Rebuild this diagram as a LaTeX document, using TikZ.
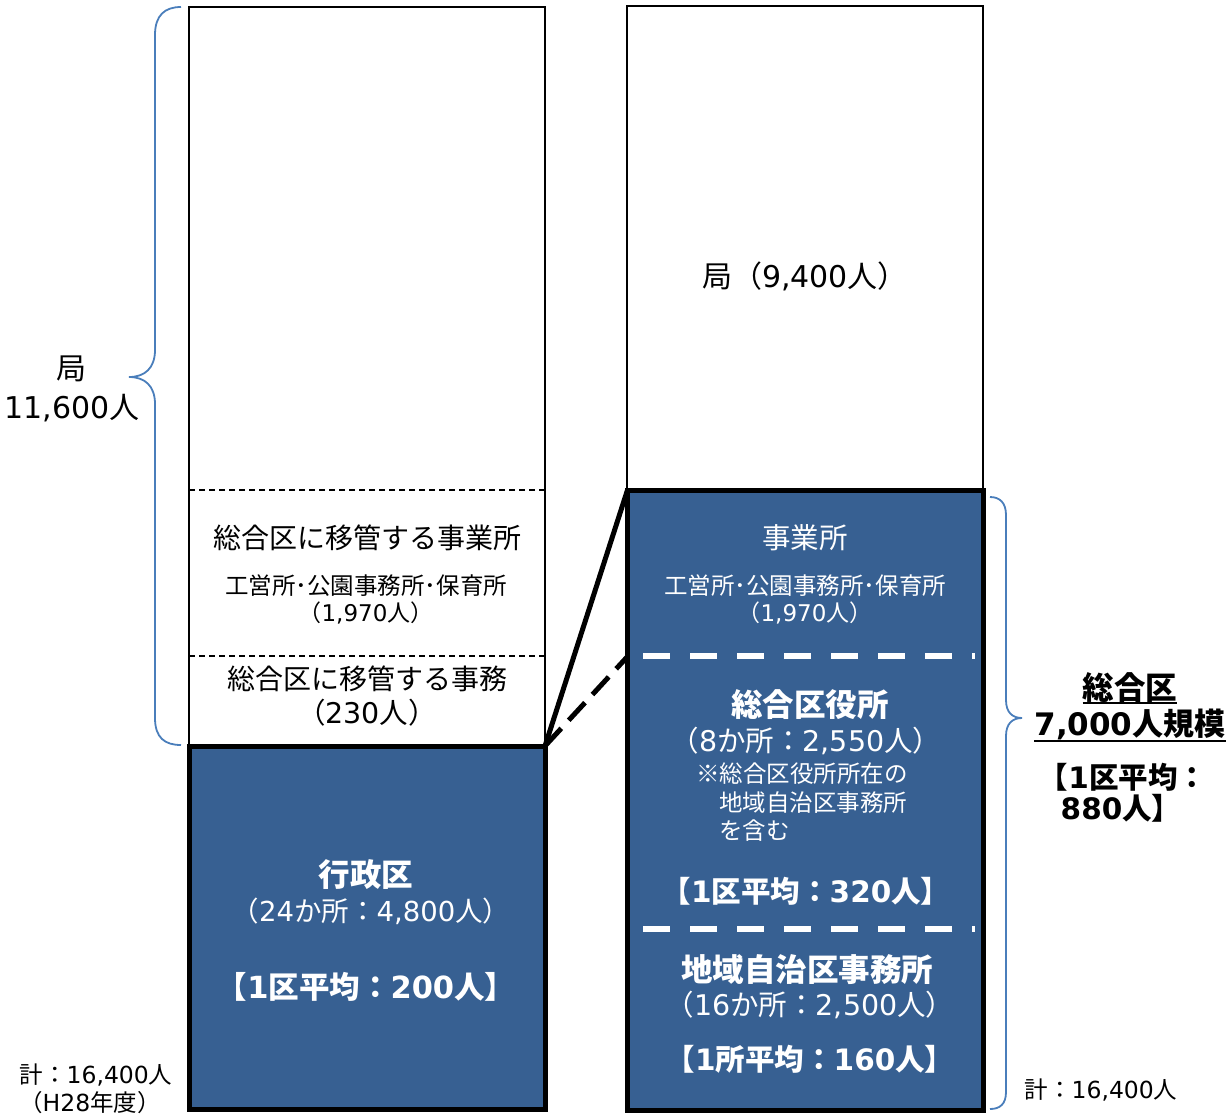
\documentclass[tikz,border=0pt]{standalone}
\usepackage{fontspec}
\setmainfont{Noto Sans CJK JP}
\newfontfamily\latfont{DejaVu Sans}
\newcommand\lt[1]{{\latfont #1}}
\newcommand\fsz[1]{\fontsize{#1}{#1}\selectfont}
\usetikzlibrary{calc}
\definecolor{boxblue}{HTML}{376092}
\definecolor{bracecol}{HTML}{4A7EBB}
\begin{document}
\begin{tikzpicture}[x=1pt,y=-1pt,
  thinbox/.style={draw=black,line width=1.5,minimum width=356,minimum height=#1,inner sep=0,outer sep=0},
  bluebox/.style={draw=black,fill=boxblue,line width=5,minimum width=356,minimum height=#1,inner sep=0,outer sep=0},
  lb/.style={inner sep=0,anchor=base,font=\fsz{#1}},
  lbw/.style={inner sep=0,anchor=base west,font=\fsz{#1}},
  wt/.style={text=white},
  thindash/.style={draw=black,line width=1.3,dash pattern=on 6 off 4},
  whitedash/.style={draw=white,line width=6,dash pattern=on 27 off 20},
  blackdash/.style={draw=black,line width=5,dash pattern=on 24 off 11},
  solidlink/.style={draw=black,line width=5},
  brace/.style={draw=bracecol,line width=1.8}]
\useasboundingbox (0,0) rectangle (1229,1117);

% columns
\node[thinbox=739] (ltall) at (367,376.5) {};
\node[thinbox=484] (rtop) at (805,248) {};
\draw[thindash] (189,490) -- (545,490);
\draw[thindash] (189,656) -- (545,656);
\node[bluebox=363] (gyosei) at (367,927.5) {};
\node[bluebox=620] (sogo) at (805.5,800) {};
\coordinate (d1) at (628,656);
\draw[whitedash] (643,656) -- (975,656);
\draw[whitedash] (643,929) -- (975,929);

% connectors
\draw[solidlink] (gyosei.north east) -- (sogo.north west);
\draw[blackdash] (gyosei.north east) -- (d1);

% braces
\draw[brace] (181,7) .. controls (165,7) and (155,15) .. (155,35) -- (155,350)
  .. controls (155,368) and (145,377) .. (129,377)
  .. controls (145,377) and (155,386) .. (155,404) -- (155,718)
  .. controls (155,738) and (165,745) .. (181,745);
\draw[brace] (990,497) .. controls (1000,497) and (1006,503) .. (1006,515) -- (1006,700)
  .. controls (1006,712) and (1012,718) .. (1022,718)
  .. controls (1012,718) and (1006,724) .. (1006,736) -- (1006,1092)
  .. controls (1006,1104) and (1000,1109) .. (990,1109);

% left labels
\node[lb=30] (kyoku) at (71,379.4) {局};
\node[lb=30] (kyokun) at (72,418.4) {\lt{11,600}人};
\node[lb=30] (t9400) at (805,287.4) {局（\lt{9,400}人）};
\node[lb=28] (lj1) at (367,548.6) {総合区に移管する事業所};
\node[lb=23.5] (lj2) at (366,594.9) {工営所･公園事務所･保育所};
\node[lb=23] (lj3) at (366,621.7) {（\lt{1,970}人）};
\node[lb=28] (lm1) at (367,689.6) {総合区に移管する事務};
\node[lb=28.5] (lm2) at (367,723.8) {（\lt{230}人）};
\node[lb=31.5,wt] (g1) at (366,886) {\bfseries 行政区};
\node[lb=27.5,wt] (g2) at (371,921.5) {（\lt{24}か所：\lt{4,800}人）};
\node[lb=30.5,wt] (g3) at (366,998.6) {\bfseries 【\lt{1}区平均：\lt{200}人】};
\node[lb=23.5] (totl1) at (96,1083) {計：\lt{16,400}人};
\node[lb=23.5] (totl2) at (90,1111) {（\lt{H28}年度）};

% right box labels
\node[lb=28.5,wt] (r1) at (805,548.8) {事業所};
\node[lb=23.5,wt] (r2) at (805,594.9) {工営所･公園事務所･保育所};
\node[lb=23,wt] (r3) at (805,621.7) {（\lt{1,970}人）};
\node[lb=31.5,wt] (r4) at (810,716) {\bfseries 総合区役所};
\node[lb=28.5,wt] (r5) at (806,751.8) {（\lt{8}か所：\lt{2,550}人）};
\node[lbw=23.5,wt] (r6) at (696,782) {※総合区役所所在の};
\node[lbw=23.5,wt] (r7) at (719,811) {地域自治区事務所};
\node[lbw=23.5,wt] (r8) at (719,839) {を含む};
\node[lb=29.5,wt] (r9) at (806,902.2) {\bfseries 【\lt{1}区平均：\lt{320}人】};
\node[lb=31.5,wt] (r10) at (807,981) {\bfseries 地域自治区事務所};
\node[lb=28.5,wt] (r11) at (810,1015.8) {（\lt{16}か所：\lt{2,500}人）};
\node[lb=29.5,wt] (r12) at (810,1070.2) {\bfseries 【\lt{1}所平均：\lt{160}人】};

% right side labels
\node[lb=31.5] (s1) at (1130,699) {\bfseries 総合区};
\node[lb=31] (s2) at (1130,735.8) {\bfseries \lt{7,000}人規模};
\draw[line width=2] ($(s1.base west)+(0,3.5)$) -- ($(s1.base east)+(0,3.5)$);
\draw[line width=2] ($(s2.base west)+(0,5.5)$) -- ($(s2.base east)+(0,5.5)$);
\node[lb=29.5] (s3) at (1123,788.2) {\bfseries 【\lt{1}区平均：};
\node[lb=29.5] (s4) at (1121,819.2) {\bfseries \lt{880}人】};
\node[lb=23.5] (totr) at (1101,1098) {計：\lt{16,400}人};
\end{tikzpicture}
\end{document}
